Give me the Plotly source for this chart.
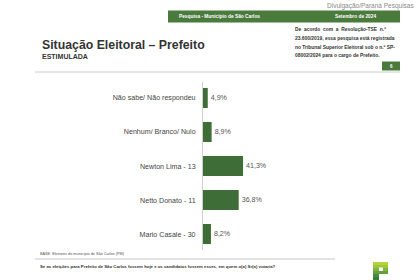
import plotly.graph_objects as go

categories = ["Não sabe/ Não respondeu", "Nenhum/ Branco/ Nulo", "Newton Lima - 13", "Netto Donato - 11", "Mario Casale - 30"]
values = [4.9, 8.9, 41.3, 36.8, 8.2]
value_labels = ["4,9%", "8,9%", "41,3%", "36,8%", "8,2%"]

W, H = 420, 280
FONT = "Liberation Sans, Arial, sans-serif"
GREEN = "#4a7a3c"
BAR = "#3f6d37"

def px(x):
    return x / W

def py(y):
    return 1 - y / H

fig = go.Figure()
fig.add_trace(go.Bar(
    x=values, y=categories, orientation="h",
    marker=dict(color=BAR, line=dict(width=0)),
    text=value_labels, textposition="outside", cliponaxis=False,
    textfont=dict(family=FONT, size=7.1, color="#555555"),
    width=0.59,
))

annotations = []
def note(x, y, text, size, color="#333333", anchor="left", bold=False, yanchor="middle"):
    t = f"<b>{text}</b>" if bold else text
    annotations.append(dict(x=px(x), y=py(y), xref="paper", yref="paper", text=t,
                            showarrow=False, xanchor=anchor, yanchor=yanchor,
                            font=dict(family=FONT, size=size, color=color)))

note(416, 6, "Divulgação/Paraná Pesquisas", 6.5, color="#8a8a8a", anchor="right")
note(177, 16.5, "Pesquisa - Município de São Carlos", 4.8, color="white", bold=True)
note(333, 16.5, "Setembro de 2024", 4.8, color="white", bold=True)
note(40, 45, "Situação Eleitoral – Prefeito", 12.3, color="#333333", bold=True)
note(40, 57, "ESTIMULADA", 7, color="#333333", bold=True)
note(293, 30, "De  acordo  com  a  Resolução-TSE  n.º", 4.9, color="#333333", bold=True)
note(293, 39, "23.600/2019, essa pesquisa está registrada", 4.9, color="#333333", bold=True)
note(293, 47.5, "no Tribunal Superior Eleitoral sob o n.º SP-", 4.9, color="#333333", bold=True)
note(293, 56, "08002/2024 para o cargo de Prefeito.", 4.9, color="#333333", bold=True)
note(391, 66, "6", 4.5, color="white", anchor="center", bold=True)
note(38, 254, "BASE: Eleitores do município de São Carlos (PM)", 3.8, color="#555555")
note(38, 266, "Se as eleições para Prefeito de São Carlos fossem hoje e os candidatos fossem esses, em quem o(a) Sr(a) votaria?", 4.3, color="#333333", bold=True)

shapes = [
    dict(type="rect", xref="paper", yref="paper", x0=px(168), x1=px(400), y0=py(10.5), y1=py(22.5),
         fillcolor=GREEN, line=dict(width=0), layer="below"),
    dict(type="rect", xref="paper", yref="paper", x0=px(382), x1=px(400), y0=py(61.5), y1=py(70.5),
         fillcolor=GREEN, line=dict(width=0), layer="below"),
    dict(type="line", xref="paper", yref="paper", x0=px(35), x1=px(400), y0=py(72), y1=py(72),
         line=dict(color="#c8cfc4", width=1)),
    dict(type="line", xref="paper", yref="paper", x0=px(35), x1=px(335), y0=py(259), y1=py(259),
         line=dict(color="#b8b8b8", width=0.8)),
]
# Paraná Pesquisas logo "P" made of stripes
logo_cols = ["#b5d33a", "#9cc63c", "#7fb53e", "#62a03f", "#4a8a3e", "#3a7a3a"]
for i, c in enumerate(logo_cols):
    y0 = 262 + i * 3
    y1 = y0 + 3
    x1 = 388 if i < 4 else 379
    shapes.append(dict(type="rect", xref="paper", yref="paper", x0=px(373), x1=px(x1),
                       y0=py(y0), y1=py(y1), fillcolor=c, line=dict(width=0)))
shapes.append(dict(type="rect", xref="paper", yref="paper", x0=px(379), x1=px(383),
                   y0=py(267.5), y1=py(271), fillcolor="white", line=dict(width=0)))

fig.update_layout(
    width=W, height=H, margin=dict(l=0, r=0, t=0, b=0),
    paper_bgcolor="white", plot_bgcolor="white", showlegend=False,
    xaxis=dict(domain=[px(203), px(300)], range=[0, 100], visible=False),
    yaxis=dict(domain=[1 - 250 / H, 1 - 82 / H], range=[4.47, -0.47], type="category",
               showline=True, linecolor="#cfcfcf", linewidth=1, showgrid=False, ticks="",
               ticklabelstandoff=5,
               tickfont=dict(family=FONT, size=7.1, color="#444444")),
    annotations=annotations, shapes=shapes,
)

fig.write_html("out.html")
